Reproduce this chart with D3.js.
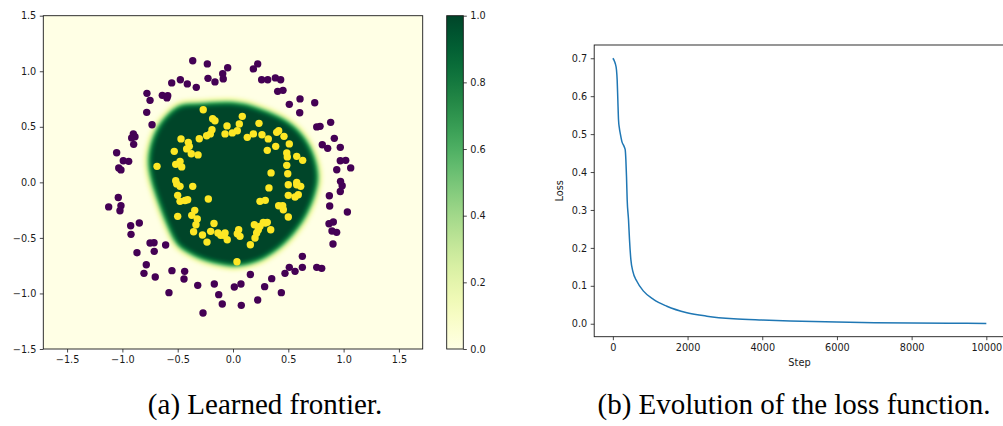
<!DOCTYPE html>
<html>
<head>
<meta charset="utf-8">
<script src="https://cdn.jsdelivr.net/npm/d3@7"></script>
<style>
  html, body { margin: 0; padding: 0; background: #fff; }
  svg { display: block; }
  .tick text { font-family: "DejaVu Sans", sans-serif; font-size: 9.7px; fill: #1a1a1a; }
  .tick line { stroke: #1a1a1a; stroke-width: 0.8px; }
</style>
</head>
<body>
<svg id="fig" width="1003" height="426"></svg>
<script>
// ---- scatter points: outer ring (label 0) ----
const outerX = [-0.364,-0.232,-0.048,-0.093,-0.088,-0.226,-0.163,-0.476,-0.554,-0.413,-0.332,-0.778,-0.639,-0.597,-0.590,-0.750,-0.780,-0.732,-0.901,-0.886,-0.916,-0.898,-1.052,-0.992,-0.943,-1.033,-1.013,-1.037,
  -1.124,-1.013,-1.022,-0.925,-0.847,-0.922,-0.750,-0.714,-0.609,-0.868,-0.712,-0.784,-0.805,-0.703,-0.552,-0.437,-0.443,-0.319,-0.579,-0.169,-0.129,-0.097,-0.271,0.012,0.072,0.075,0.157,
  0.223,0.286,0.350,0.437,0.470,0.509,0.561,0.627,0.627,0.757,0.802,0.904,0.868,0.907,0.895,0.937,0.874,0.871,1.034,0.970,0.987,0.972,
  0.223,0.184,0.259,0.314,0.383,0.431,0.404,0.452,0.509,0.606,0.603,0.739,0.883,0.757,0.787,0.916,0.807,0.856,0.970,0.970,1.019,1.064,0.938];
const outerY = [1.095,1.066,1.032,0.978,0.931,0.936,0.904,0.924,0.895,0.886,0.855,0.801,0.783,0.760,0.780,0.738,0.630,0.519,0.436,0.411,0.400,0.342,0.267,0.195,0.189,0.130,0.112,-0.137,
  -0.221,-0.210,-0.255,-0.390,-0.366,-0.468,-0.546,-0.543,-0.564,-0.633,-0.621,-0.741,-0.819,-0.852,-0.795,-0.801,-0.870,-0.927,-0.993,-0.915,-1.011,-1.095,-1.176,-0.942,-0.915,-1.107,-0.830,
  -1.059,-0.939,-0.867,-0.993,-0.819,-0.765,-0.801,-0.666,-0.765,-0.765,-0.774,-0.555,-0.372,-0.357,-0.438,-0.450,-0.213,-0.120,-0.267,-0.082,-0.030,0.009,
  1.066,1.021,0.924,0.924,0.940,0.924,0.819,0.828,0.702,0.751,0.627,0.717,0.540,0.499,0.504,0.396,0.339,0.306,0.315,0.195,0.198,0.130,0.114];

// ---- scatter points: inner ring (label 1) ----
const innerX = [-0.269,-0.184,-0.163,0.084,0.057,-0.054,-0.190,-0.205,-0.238,-0.305,-0.072,-0.006,0.039,0.129,-0.470,-0.404,-0.395,-0.419,-0.377,-0.316,-0.531,-0.479,-0.518,-0.464,-0.687,-0.518,-0.509,-0.364,-0.223,
  -0.479,-0.500,-0.479,-0.434,-0.410,-0.500,-0.373,-0.346,-0.323,-0.335,-0.356,-0.276,-0.235,-0.202,-0.172,-0.136,-0.111,-0.081,-0.052,-0.072,0.039,0.063,0.051,0.157,0.036,
  0.193,0.229,0.199,0.244,0.274,0.292,0.310,0.341,0.214,0.244,0.292,0.325,0.413,0.449,0.455,0.500,0.500,0.561,0.590,0.500,0.576,0.612,
  0.184,0.235,0.262,0.319,0.413,0.395,0.461,0.386,0.509,0.310,0.486,0.491,0.576,0.630,0.486,0.344,0.495,0.576];
const innerY = [0.654,0.573,0.555,0.594,0.526,0.508,0.474,0.436,0.420,0.393,0.436,0.445,0.465,0.405,0.391,0.360,0.324,0.301,0.258,0.247,0.279,0.189,0.162,0.139,0.144,0.015,-0.014,-0.036,-0.150,
  -0.036,-0.117,-0.171,-0.163,-0.156,-0.306,-0.297,-0.252,-0.330,-0.381,-0.444,-0.474,-0.538,-0.441,-0.370,-0.455,-0.477,-0.477,-0.516,-0.455,-0.462,-0.486,-0.426,-0.561,-0.714,
  -0.381,-0.426,-0.501,-0.396,-0.360,-0.366,-0.360,-0.426,-0.455,-0.171,-0.162,-0.050,-0.210,-0.210,-0.246,-0.312,-0.117,-0.132,-0.111,-0.021,-0.021,-0.036,
  0.436,0.531,0.429,0.391,0.465,0.450,0.414,0.324,0.346,0.288,0.265,0.229,0.234,0.198,0.153,0.085,0.078,0.000];

// ---- learned decision frontier (0.5 level), counter-clockwise ----
const frontierX = [0.771,0.741,0.651,0.500,0.199,0.000,-0.300,-0.479,-0.600,-0.690,-0.750,-0.771,-0.750,-0.705,-0.651,-0.590,-0.509,-0.400,-0.298,-0.147,0.003,0.154,0.289,0.455,0.590,0.681,0.741];
const frontierY = [0.040,0.220,0.400,0.549,0.684,0.725,0.715,0.699,0.609,0.490,0.339,0.189,0.040,-0.111,-0.261,-0.410,-0.561,-0.640,-0.690,-0.735,-0.756,-0.735,-0.681,-0.561,-0.410,-0.261,-0.111];

// ---- training loss ----
const steps = [0,30,62,97,115,133,151,175,195,240,302,330,348,365,383,419,445,482,535,642,820,1087,1445,1981,2516,3230,3996,4747,5996,7000,8003,9000,10000];
const loss  = [0.700,0.695,0.687,0.669,0.643,0.590,0.538,0.515,0.503,0.481,0.467,0.459,0.432,0.388,0.327,0.274,0.222,0.169,0.138,0.112,0.086,0.064,0.046,0.029,0.020,0.013,0.0096,0.0072,0.0043,0.0028,0.0018,0.0012,0.0008];

// ---- tick labels ----
const frontierTicks = [-1.5,-1.0,-0.5,0.0,0.5,1.0,1.5];
const colorbarTicks = [0.0,0.2,0.4,0.6,0.8,1.0];
const stepTicks = [0,2000,4000,6000,8000,10000];
const lossTicks = [0.0,0.1,0.2,0.3,0.4,0.5,0.6,0.7];

const captions = ["(a) Learned frontier.", "(b) Evolution of the loss function."];

const svg = d3.select("#fig");
const fmt1 = d3.format(".1f");
const spine = "#1a1a1a";

// ================= left panel: learned frontier =================
const A = {x: 43.3, y: 15.7, w: 379.4, h: 333.3};
const xs = d3.scaleLinear().domain([-1.715, 1.715]).range([A.x, A.x + A.w]);
const ys = d3.scaleLinear().domain([-1.5, 1.5]).range([A.y + A.h, A.y]);
const cmap = d3.scaleSequential(d3.interpolateYlGn).domain([0, 1]);

// probability field: filled frontier softened by a blur, mapped through YlGn
(function drawField() {
  const W = Math.round(A.w), H = Math.round(A.h);
  const cv = document.createElement("canvas");
  cv.width = W; cv.height = H;
  const ctx = cv.getContext("2d");
  ctx.filter = "blur(3px)";
  const pts = frontierX.map((x, i) => [x, frontierY[i]]);
  const path = d3.line()
    .x(d => xs(d[0]) - A.x)
    .y(d => ys(d[1]) - A.y)
    .curve(d3.curveCatmullRomClosed.alpha(0.5))
    .context(ctx);
  ctx.beginPath(); path(pts); ctx.closePath();
  ctx.fillStyle = "#000"; ctx.fill();
  const img = ctx.getImageData(0, 0, W, H);
  const lut = d3.range(256).map(k => d3.rgb(cmap(k / 255)));
  for (let p = 0; p < img.data.length; p += 4) {
    const c = lut[img.data[p + 3]];
    img.data[p] = c.r; img.data[p + 1] = c.g; img.data[p + 2] = c.b; img.data[p + 3] = 255;
  }
  ctx.filter = "none";
  ctx.putImageData(img, 0, 0);
  svg.append("image")
    .attr("x", A.x).attr("y", A.y).attr("width", A.w).attr("height", A.h)
    .attr("preserveAspectRatio", "none")
    .attr("href", cv.toDataURL());
})();

const dots = svg.append("g");
dots.selectAll("circle.o").data(outerX.map((x, i) => [x, outerY[i]])).join("circle")
  .attr("class", "o").attr("cx", d => xs(d[0])).attr("cy", d => ys(d[1])).attr("r", 3.7)
  .attr("fill", "#440154");
dots.selectAll("circle.i").data(innerX.map((x, i) => [x, innerY[i]])).join("circle")
  .attr("class", "i").attr("cx", d => xs(d[0])).attr("cy", d => ys(d[1])).attr("r", 3.7)
  .attr("fill", "#fde725");

svg.append("rect").attr("x", A.x).attr("y", A.y).attr("width", A.w).attr("height", A.h)
  .attr("fill", "none").attr("stroke", spine).attr("stroke-width", 0.9);

svg.append("g").attr("transform", `translate(0,${A.y + A.h})`)
  .call(d3.axisBottom(xs).tickValues(frontierTicks).tickFormat(fmt1).tickSize(3.5).tickPadding(3.5))
  .call(g => g.select(".domain").remove());
svg.append("g").attr("transform", `translate(${A.x},0)`)
  .call(d3.axisLeft(ys).tickValues(frontierTicks).tickFormat(fmt1).tickSize(3.5).tickPadding(3.5))
  .call(g => g.select(".domain").remove());

// colorbar
const C = {x: 446.7, y: 15.7, w: 16.6, h: 333.3};
const grad = svg.append("defs").append("linearGradient").attr("id", "cbar")
  .attr("x1", 0).attr("y1", 1).attr("x2", 0).attr("y2", 0);
d3.range(0, 1.0001, 0.05).forEach(t => grad.append("stop").attr("offset", t).attr("stop-color", cmap(t)));
svg.append("rect").attr("x", C.x).attr("y", C.y).attr("width", C.w).attr("height", C.h)
  .attr("fill", "url(#cbar)").attr("stroke", spine).attr("stroke-width", 0.9);
const cs = d3.scaleLinear().domain([0, 1]).range([C.y + C.h, C.y]);
svg.append("g").attr("transform", `translate(${C.x + C.w},0)`)
  .call(d3.axisRight(cs).tickValues(colorbarTicks).tickFormat(fmt1).tickSize(3.5).tickPadding(3.5))
  .call(g => g.select(".domain").remove());

// ================= right panel: loss curve =================
const B = {x: 594.2, y: 45, w: 410.8, h: 291.7};
const sx = d3.scaleLinear().domain([-500, 10500]).range([B.x, B.x + B.w]);
const lmax = d3.max(loss), lmin = d3.min(loss), pad = (lmax - lmin) * 0.05;
const sy = d3.scaleLinear().domain([lmin - pad, lmax + pad]).range([B.y + B.h, B.y]);

svg.append("path")
  .datum(steps.map((s, i) => [s, loss[i]]))
  .attr("fill", "none").attr("stroke", "#1f77b4").attr("stroke-width", 1.5)
  .attr("stroke-linejoin", "round")
  .attr("d", d3.line().x(d => sx(d[0])).y(d => sy(d[1])).curve(d3.curveMonotoneX));

svg.append("rect").attr("x", B.x).attr("y", B.y).attr("width", B.w).attr("height", B.h)
  .attr("fill", "none").attr("stroke", spine).attr("stroke-width", 0.9);

svg.append("g").attr("transform", `translate(0,${B.y + B.h})`)
  .call(d3.axisBottom(sx).tickValues(stepTicks).tickFormat(d3.format("d")).tickSize(3.5).tickPadding(3.5))
  .call(g => g.select(".domain").remove());
svg.append("g").attr("transform", `translate(${B.x},0)`)
  .call(d3.axisLeft(sy).tickValues(lossTicks).tickFormat(fmt1).tickSize(3.5).tickPadding(3.5))
  .call(g => g.select(".domain").remove());

svg.append("text").attr("x", 799.5).attr("y", 366)
  .attr("text-anchor", "middle").attr("font-family", "DejaVu Sans, sans-serif")
  .attr("font-size", 9.8).attr("fill", "#1a1a1a").text("Step");
svg.append("text").attr("transform", `translate(563,${B.y + B.h / 2}) rotate(-90)`)
  .attr("text-anchor", "middle").attr("font-family", "DejaVu Sans, sans-serif")
  .attr("font-size", 9.8).attr("fill", "#1a1a1a").text("Loss");

// ================= captions =================
svg.append("text").attr("x", 265).attr("y", 414).attr("text-anchor", "middle")
  .attr("font-family", "Liberation Serif, serif").attr("font-size", 29).attr("fill", "#000")
  .text(captions[0]);
svg.append("text").attr("x", 794).attr("y", 414).attr("text-anchor", "middle")
  .attr("font-family", "Liberation Serif, serif").attr("font-size", 29).attr("fill", "#000")
  .text(captions[1]);
</script>
</body>
</html>
